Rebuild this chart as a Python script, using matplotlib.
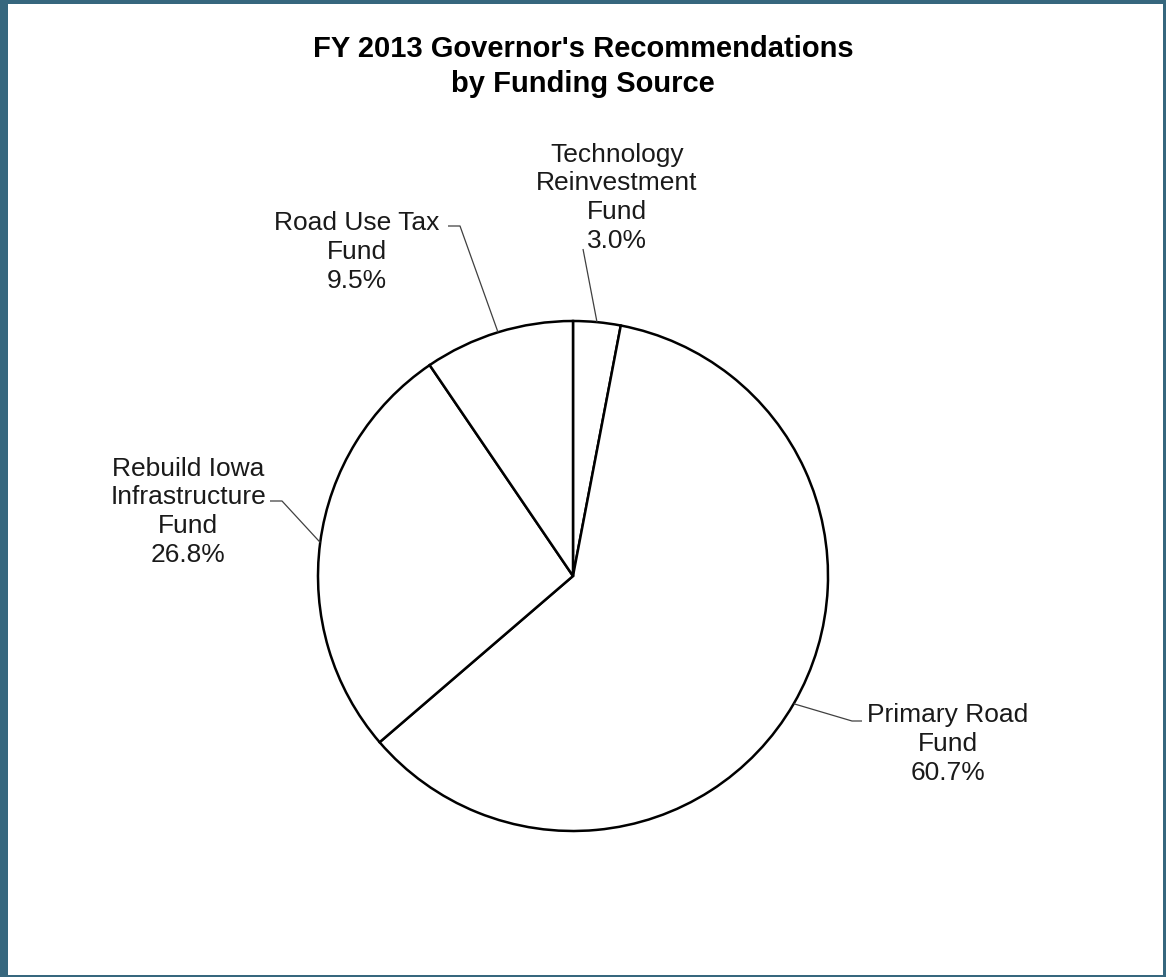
import numpy as np
import matplotlib
matplotlib.use("Agg")
import matplotlib.pyplot as plt
from matplotlib.patches import Rectangle

plt.rcParams['font.family'] = ['Liberation Sans', 'DejaVu Sans']

# funding sources, clockwise from 12 o'clock
sources = ["Technology\nReinvestment\nFund", "Primary Road\nFund",
           "Rebuild Iowa\nInfrastructure\nFund", "Road Use Tax\nFund"]
shares = [3.0, 60.7, 26.8, 9.5]

W, H = 1166, 978
fig = plt.figure(figsize=(W / 100, H / 100), dpi=100)
ax = fig.add_axes([0, 0, 1, 1])

def Y(py):
    # pixel rows run downward, axes y runs upward
    return H - py

cx, cy, r = 573, Y(577), 255
wedges, _ = ax.pie(shares, startangle=90, counterclock=False,
                   center=(cx, cy), radius=r,
                   colors=['white'] * len(shares),
                   wedgeprops=dict(edgecolor='black', linewidth=1.8))
ax.set_xlim(0, W)
ax.set_ylim(0, H)
ax.set_aspect('equal')
ax.axis('off')

# label anchor (x centre, last baseline) and leader elbow points
label_pos = [(617, 248), (948, 780), (188, 562), (357, 288)]
elbows = [[(583, 250)],
          [(852, 722), (862, 722)],
          [(282, 502), (270, 502)],
          [(460, 227), (448, 227)]]

for w, name, pct, (lx, ly), elb in zip(wedges, sources, shares, label_pos, elbows):
    mid = np.deg2rad((w.theta1 + w.theta2) / 2)
    px, py = cx + r * np.cos(mid), cy + r * np.sin(mid)
    xs = [px] + [e[0] for e in elb]
    ys = [py] + [Y(e[1]) for e in elb]
    ax.plot(xs, ys, color='#404040', linewidth=0.9, solid_capstyle='butt')
    ax.text(lx, Y(ly), f"{name}\n{pct:.1f}%", ha='center', va='baseline',
            fontsize=19, linespacing=1.25, color='#1a1a1a')

ax.text(583, Y(92), "FY 2013 Governor's Recommendations\nby Funding Source",
        ha='center', va='baseline', fontsize=21, fontweight='bold',
        linespacing=1.3)

# dark teal frame around the chart
edge = '#36677e'
for x0, y0, w_, h_ in [(0, 0, 8, H), (0, 0, W, 5), (W - 3, 0, 3, H), (0, H - 2, W, 2)]:
    fig.patches.append(Rectangle((x0 / W, 1 - (y0 + h_) / H), w_ / W, h_ / H,
                                 transform=fig.transFigure, facecolor=edge,
                                 edgecolor='none'))

fig.savefig("out.png", dpi=100)
